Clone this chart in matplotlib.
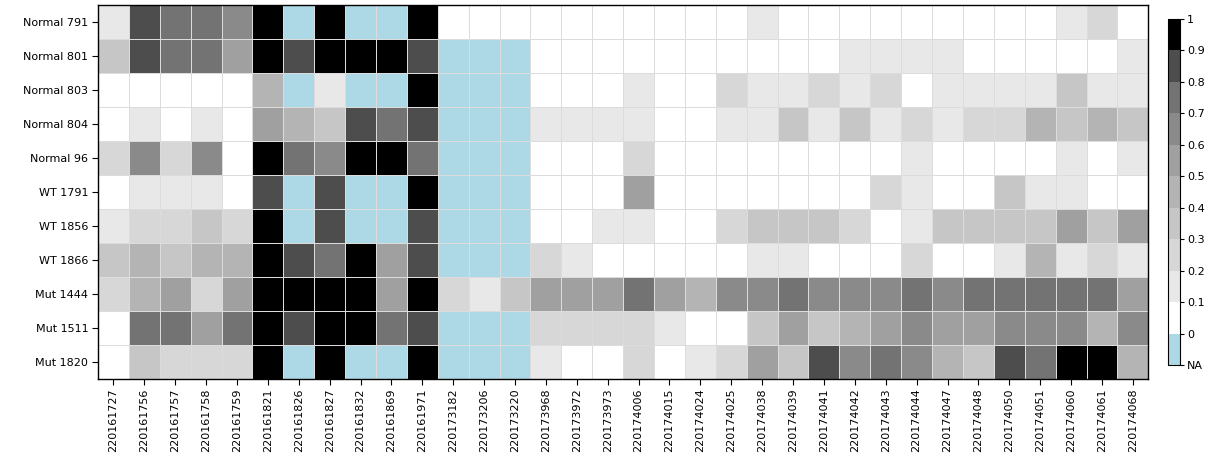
import numpy as np
import matplotlib
matplotlib.use("Agg")
import matplotlib.pyplot as plt
from matplotlib.colors import ListedColormap, BoundaryNorm
from matplotlib.colorbar import ColorbarBase

NA = np.nan

samples = ["Normal 791", "Normal 801", "Normal 803", "Normal 804", "Normal 96",
           "WT 1791", "WT 1856", "WT 1866", "Mut 1444", "Mut 1511", "Mut 1820"]

probes = ["220161727", "220161756", "220161757", "220161758", "220161759",
          "220161821", "220161826", "220161827", "220161832", "220161869",
          "220161971", "220173182", "220173206", "220173220", "220173968",
          "220173972", "220173973", "220174006", "220174015", "220174024",
          "220174025", "220174038", "220174039", "220174041", "220174042",
          "220174043", "220174044", "220174047", "220174048", "220174050",
          "220174051", "220174060", "220174061", "220174068"]

normal_791 = [0.15, 0.85, 0.75, 0.75, 0.65, 0.95, NA, 0.95, NA, NA, 0.95, 0.05, 0.05, 0.05,
              0.05, 0.05, 0.05, 0.05, 0.05, 0.05, 0.05, 0.15, 0.05, 0.05, 0.05, 0.05, 0.05,
              0.05, 0.05, 0.05, 0.05, 0.15, 0.25, 0.05]
normal_801 = [0.35, 0.85, 0.75, 0.75, 0.55, 0.95, 0.85, 0.95, 0.95, 0.95, 0.85, NA, NA, NA,
              0.05, 0.05, 0.05, 0.05, 0.05, 0.05, 0.05, 0.05, 0.05, 0.05, 0.15, 0.15, 0.15,
              0.15, 0.05, 0.05, 0.05, 0.05, 0.05, 0.15]
normal_803 = [0.05, 0.05, 0.05, 0.05, 0.05, 0.45, NA, 0.15, NA, NA, 0.95, NA, NA, NA,
              0.05, 0.05, 0.05, 0.15, 0.05, 0.05, 0.25, 0.15, 0.15, 0.25, 0.15, 0.25, 0.05,
              0.15, 0.15, 0.15, 0.15, 0.35, 0.15, 0.15]
normal_804 = [0.05, 0.15, 0.05, 0.15, 0.05, 0.55, 0.45, 0.35, 0.85, 0.75, 0.85, NA, NA, NA,
              0.15, 0.15, 0.15, 0.15, 0.05, 0.05, 0.15, 0.15, 0.35, 0.15, 0.35, 0.15, 0.25,
              0.15, 0.25, 0.25, 0.45, 0.35, 0.45, 0.35]
normal_96 = [0.25, 0.65, 0.25, 0.65, 0.05, 0.95, 0.75, 0.65, 0.95, 0.95, 0.75, NA, NA, NA,
             0.05, 0.05, 0.05, 0.25, 0.05, 0.05, 0.05, 0.05, 0.05, 0.05, 0.05, 0.05, 0.15,
             0.05, 0.05, 0.05, 0.05, 0.15, 0.05, 0.15]
wt_1791 = [0.05, 0.15, 0.15, 0.15, 0.05, 0.85, NA, 0.85, NA, NA, 0.95, NA, NA, NA,
           0.05, 0.05, 0.05, 0.55, 0.05, 0.05, 0.05, 0.05, 0.05, 0.05, 0.05, 0.25, 0.15,
           0.05, 0.05, 0.35, 0.15, 0.15, 0.05, 0.05]
wt_1856 = [0.15, 0.25, 0.25, 0.35, 0.25, 0.95, NA, 0.85, NA, NA, 0.85, NA, NA, NA,
           0.05, 0.05, 0.15, 0.15, 0.05, 0.05, 0.25, 0.35, 0.35, 0.35, 0.25, 0.05, 0.15,
           0.35, 0.35, 0.35, 0.35, 0.55, 0.35, 0.55]
wt_1866 = [0.35, 0.45, 0.35, 0.45, 0.45, 0.95, 0.85, 0.75, 0.95, 0.55, 0.85, NA, NA, NA,
           0.25, 0.15, 0.05, 0.05, 0.05, 0.05, 0.05, 0.15, 0.15, 0.05, 0.05, 0.05, 0.25,
           0.05, 0.05, 0.15, 0.45, 0.15, 0.25, 0.15]
mut_1444 = [0.25, 0.45, 0.55, 0.25, 0.55, 0.95, 0.95, 0.95, 0.95, 0.55, 0.95, 0.25, 0.15, 0.35,
            0.55, 0.55, 0.55, 0.75, 0.55, 0.45, 0.65, 0.65, 0.75, 0.65, 0.65, 0.65, 0.75,
            0.65, 0.75, 0.75, 0.75, 0.75, 0.75, 0.55]
mut_1511 = [0.05, 0.75, 0.75, 0.55, 0.75, 0.95, 0.85, 0.95, 0.95, 0.75, 0.85, NA, NA, NA,
            0.25, 0.25, 0.25, 0.25, 0.15, 0.05, 0.05, 0.35, 0.55, 0.35, 0.45, 0.55, 0.65,
            0.55, 0.55, 0.65, 0.65, 0.65, 0.45, 0.65]
mut_1820 = [0.05, 0.35, 0.25, 0.25, 0.25, 0.95, NA, 0.95, NA, NA, 0.95, NA, NA, NA,
            0.15, 0.05, 0.05, 0.25, 0.05, 0.15, 0.25, 0.55, 0.35, 0.85, 0.65, 0.75, 0.65,
            0.45, 0.35, 0.85, 0.75, 0.95, 0.95, 0.45]

rows = [normal_791, normal_801, normal_803, normal_804, normal_96, wt_1791,
        wt_1856, wt_1866, mut_1444, mut_1511, mut_1820]

cbar_labels = ["NA", "0", "0.1", "0.2", "0.3", "0.4", "0.5", "0.6", "0.7", "0.8", "0.9", "1"]

colors = ["#add8e6", "#ffffff", "#e8e8e8", "#d7d7d7", "#c6c6c6", "#b4b4b4",
          "#a0a0a0", "#8a8a8a", "#737373", "#4d4d4d", "#000000"]
bounds = np.linspace(-0.1, 1.0, 12)
cmap = ListedColormap(colors)
norm = BoundaryNorm(bounds, cmap.N)

data = np.array(rows, dtype=float)
plot_data = np.where(np.isnan(data), -0.05, data)

fig = plt.figure(figsize=(12.10, 4.62), dpi=100)
ax = fig.add_axes([0.081, 0.180, 0.868, 0.809])
ax.pcolormesh(plot_data, cmap=cmap, norm=norm, edgecolors="#dcdcdc", linewidth=0.4)
ax.set_xlim(0, len(probes))
ax.set_ylim(len(samples), 0)
ax.set_xticks(np.arange(len(probes)) + 0.5)
ax.set_xticklabels(probes, rotation=90, fontsize=8)
ax.set_yticks(np.arange(len(samples)) + 0.5)
ax.set_yticklabels(samples, fontsize=8)
ax.tick_params(length=4, width=0.8, pad=3)
for s in ax.spines.values():
    s.set_linewidth(1.0)

cax = fig.add_axes([0.9653, 0.210, 0.0099, 0.749])
cb = ColorbarBase(cax, cmap=cmap, norm=norm, boundaries=bounds, ticks=bounds,
                  spacing="uniform", orientation="vertical")
cb.set_ticklabels(cbar_labels)
cb.ax.tick_params(labelsize=8, length=3, width=0.8, pad=2)
cb.outline.set_linewidth(0.8)

fig.savefig("out.png", dpi=100)
